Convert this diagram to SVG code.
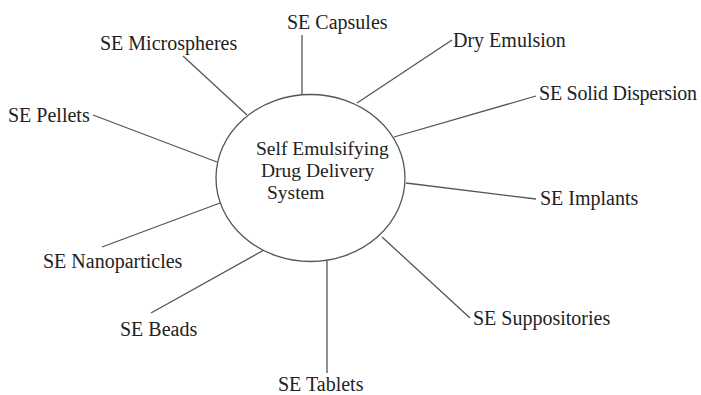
<svg xmlns="http://www.w3.org/2000/svg" width="701" height="395" viewBox="0 0 701 395">
  <style>
    .bg { fill: #ffffff; }
    .hub { fill: #ffffff; stroke: #555555; stroke-width: 1.3; }
    .link { stroke: #555555; stroke-width: 1.3; fill: none; }
    .lbl { font-family: "Liberation Serif", "Times New Roman", serif; font-size: 20px; fill: #222222; }
    .hubtxt { font-family: "Liberation Serif", "Times New Roman", serif; font-size: 19.5px; fill: #222222; }
  </style>
  <rect class="bg" x="0" y="0" width="701" height="395"/>

  <!-- spokes from the central system to each dosage form -->
  <g id="connectors">
    <line class="link" x1="302" y1="35" x2="302" y2="95"/>
    <line class="link" x1="183" y1="56" x2="247" y2="115"/>
    <line class="link" x1="93" y1="115" x2="217" y2="162"/>
    <line class="link" x1="452" y1="40" x2="357" y2="103"/>
    <line class="link" x1="536" y1="96" x2="394" y2="137"/>
    <line class="link" x1="536" y1="199" x2="406" y2="183"/>
    <line class="link" x1="102" y1="247" x2="220" y2="203"/>
    <line class="link" x1="151" y1="313" x2="264" y2="250"/>
    <line class="link" x1="327" y1="261" x2="327" y2="373"/>
    <line class="link" x1="470" y1="318" x2="382" y2="237"/>
  </g>

  <g id="hub">
    <ellipse class="hub" cx="310.5" cy="178" rx="94.5" ry="83.5"/>
    <text class="hubtxt" x="256" y="155">Self Emulsifying</text>
    <text class="hubtxt" x="261" y="177">Drug Delivery</text>
    <text class="hubtxt" x="267" y="199">System</text>
  </g>

  <g id="capsules"><text class="lbl" x="287" y="29">SE Capsules</text></g>
  <g id="microspheres"><text class="lbl" x="100" y="50">SE Microspheres</text></g>
  <g id="pellets"><text class="lbl" x="8" y="122">SE Pellets</text></g>
  <g id="dry-emulsion"><text class="lbl" x="453" y="47">Dry Emulsion</text></g>
  <g id="solid-dispersion"><text class="lbl" x="539" y="100" textLength="158">SE Solid Dispersion</text></g>
  <g id="implants"><text class="lbl" x="540" y="205">SE Implants</text></g>
  <g id="nanoparticles"><text class="lbl" x="43" y="268">SE Nanoparticles</text></g>
  <g id="beads"><text class="lbl" x="120" y="336">SE Beads</text></g>
  <g id="tablets"><text class="lbl" x="278" y="391">SE Tablets</text></g>
  <g id="suppositories"><text class="lbl" x="473" y="325">SE Suppositories</text></g>
</svg>
